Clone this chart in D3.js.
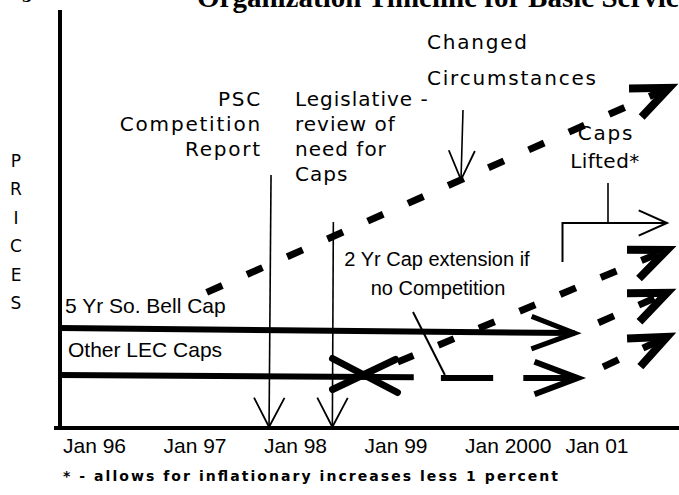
<!DOCTYPE html>
<html>
<head>
<meta charset="utf-8">
<script src="https://cdn.jsdelivr.net/npm/d3@7"></script>
<style>
  html, body { margin: 0; padding: 0; background: #fff; }
  svg { display: block; }
  .wide { font-family: "DejaVu Sans", sans-serif; font-size: 20px; letter-spacing: 1.8px; }
  .plain { font-family: "Liberation Sans", Arial, sans-serif; font-size: 21px; }
</style>
</head>
<body>
<svg id="containerSVG" width="679" height="495"></svg>
<script>

//DATA

var yearTicks = [1996, 1997, 1998, 1999, 2000, 2001];
var yearLabels = ["Jan 96", "Jan 97", "Jan 98", "Jan 99", "Jan 2000", "Jan 01"];

// caps: [year, price index]
var bellCap = [[1996, 23.8], [2001.12, 22.6]];
var lecCap = [[1996, 12.6], [1999.52, 12.1]];
var lecExtension = [[1999.79, 11.9], [2000.31, 11.9]];
var lecFinal = [[2000.61, 11.9], [2001.15, 11.9]];
var lecCapEnd = [1999.04, 12.5];

// prices after caps (dashed)
var priceUncapped = [[1997.46, 32.3], [2002.06, 81.0]];
var priceLecAfter = [[1999.36, 15.7], [2002.04, 42.4]];
var priceBellAfter = [[2001.12, 22.6], [2002.04, 32.2]];
var priceExtAfter = [[2001.17, 11.9], [2002.04, 21.7]];

// events
var eventNames = ["PSC Competition Report", "Legislative review", "Changed Circumstances", "Caps Lifted"];
var eventDates = [1998.08, 1998.71, 2000.0, 2001.0];

var pricesLetters = ["P", "R", "I", "C", "E", "S"];

//VARIABLES

var svg;
var x, y;
var line;

//FUNCTIONS

function init(){

    svg = d3.select("#containerSVG");

    x = d3.scaleLinear().domain([1996, 2001]).range([60, 562.5]);
    y = d3.scaleLinear().domain([0, 100]).range([428, 8]);

    line = d3.line()
        .x(d => x(d[0]))
        .y(d => y(d[1]));

    drawTitle();
    drawAxes();
    drawPricePaths();
    drawCaps();
    drawEvents();

}

function pt(d){
    return [x(d[0]), y(d[1])];
}

// open arrowhead at p1 coming from p0
function arrowHead(p0, p1, len, half, width){

    var a = Math.atan2(p1[1] - p0[1], p1[0] - p0[0]);
    var w1 = [p1[0] - len * Math.cos(a - half), p1[1] - len * Math.sin(a - half)];
    var w2 = [p1[0] - len * Math.cos(a + half), p1[1] - len * Math.sin(a + half)];

    svg.append("path")
        .attr("d", "M" + w1 + "L" + p1 + "L" + w2)
        .attr("fill", "none")
        .attr("stroke", "black")
        .attr("stroke-width", width)
        .attr("stroke-linejoin", "miter")
        .attr("stroke-miterlimit", 10);

}

function drawTitle(){

    // scanned page: only the bottom of the heading is left
    svg.append("text")
        .attr("x", 22)
        .attr("y", 2)
        .style("font-family", "'Liberation Serif', serif")
        .style("font-weight", "bold")
        .style("font-size", "20px")
        .text("3");

    svg.append("text")
        .attr("x", 197)
        .attr("y", 7)
        .style("font-family", "'Liberation Serif', serif")
        .style("font-weight", "bold")
        .style("font-size", "29px")
        .text("Organization Timeline for Basic Services");

}

function drawAxes(){

    // y axis
    svg.append("line")
        .attr("x1", x(1996)).attr("y1", 10)
        .attr("x2", x(1996)).attr("y2", y(0) + 2)
        .attr("stroke", "black")
        .attr("stroke-width", 4);

    // x axis
    svg.append("line")
        .attr("x1", 54).attr("y1", y(0))
        .attr("x2", 679).attr("y2", y(0))
        .attr("stroke", "black")
        .attr("stroke-width", 4);

    svg.selectAll(".tick")
        .data(yearTicks)
        .enter()
        .append("text")
        .attr("class", "plain tick")
        .attr("x", d => x(d) + 3)
        .attr("y", 453)
        .text((d, i) => yearLabels[i]);

    svg.selectAll(".prices")
        .data(pricesLetters)
        .enter()
        .append("text")
        .attr("class", "prices")
        .attr("x", 16)
        .attr("y", (d, i) => 167 + i * 28.4)
        .style("text-anchor", "middle")
        .style("font-family", "'DejaVu Sans', sans-serif")
        .style("font-size", "17px")
        .text(d => d);

    svg.append("text")
        .attr("x", 63)
        .attr("y", 481)
        .attr("textLength", 495)
        .attr("lengthAdjust", "spacing")
        .style("font-family", "'DejaVu Sans', sans-serif")
        .style("font-size", "14px")
        .style("font-weight", "bold")
        .text("* - allows for inflationary increases less 1 percent");

}

function drawCaps(){

    var caps = [bellCap, lecCap, lecExtension, lecFinal];

    svg.selectAll(".cap")
        .data(caps)
        .enter()
        .append("path")
        .attr("class", "cap")
        .attr("d", line)
        .attr("fill", "none")
        .attr("stroke", "black")
        .attr("stroke-width", 6);

    arrowHead(pt(bellCap[0]), pt(bellCap[1]), 46, 0.36, 5);
    arrowHead(pt(lecFinal[0]), pt(lecFinal[1]), 46, 0.36, 6);

    // cap ends: X mark
    var c = pt(lecCapEnd);
    svg.append("path")
        .attr("d", "M" + (c[0] - 33) + "," + (c[1] - 17) + "L" + (c[0] + 32) + "," + (c[1] + 17) +
                   "M" + (c[0] - 33) + "," + (c[1] + 14) + "L" + (c[0] + 30) + "," + (c[1] - 16))
        .attr("stroke", "black")
        .attr("stroke-width", 7)
        .attr("stroke-linecap", "round");

    svg.append("text")
        .attr("class", "plain")
        .attr("x", 65)
        .attr("y", 313)
        .text("5 Yr So. Bell Cap");

    svg.append("text")
        .attr("class", "plain")
        .attr("x", 68)
        .attr("y", 357)
        .text("Other LEC Caps");

    svg.append("text")
        .attr("class", "plain")
        .attr("x", 437)
        .attr("y", 266)
        .style("text-anchor", "middle")
        .style("font-size", "20px")
        .text("2 Yr Cap extension if");

    svg.append("text")
        .attr("class", "plain")
        .attr("x", 438)
        .attr("y", 295)
        .style("text-anchor", "middle")
        .style("font-size", "20px")
        .text("no Competition");

    svg.append("line")
        .attr("x1", 413).attr("y1", 312)
        .attr("x2", x(lecExtension[0][0]) + 4).attr("y2", y(lecExtension[0][1]) - 3)
        .attr("stroke", "black")
        .attr("stroke-width", 2);

}

function drawPricePaths(){

    var paths = [priceUncapped, priceLecAfter, priceBellAfter, priceExtAfter];
    var offsets = [0, 0, 18, 18];

    svg.selectAll(".price")
        .data(paths)
        .enter()
        .append("path")
        .attr("class", "price")
        .attr("d", line)
        .attr("fill", "none")
        .attr("stroke", "black")
        .attr("stroke-width", 7)
        .attr("stroke-dasharray", "17 27")
        .attr("stroke-dashoffset", (d, i) => offsets[i]);

    paths.forEach(p => {
        arrowHead(pt(p[0]), pt(p[1]), 40, 0.4, 8);
    });

}

function drawEvents(){

    // PSC Competition Report
    var xp = x(eventDates[0]);
    svg.append("line")
        .attr("x1", xp + 2).attr("y1", 175)
        .attr("x2", xp).attr("y2", y(0) - 1)
        .attr("stroke", "black").attr("stroke-width", 1.6);
    arrowHead([xp + 2, 175], [xp, y(0) - 1], 33, 0.48, 1.8);

    ["PSC", "Competition", "Report"].forEach((t, i) => {
        svg.append("text")
            .attr("class", "wide")
            .attr("x", 262)
            .attr("y", 106 + i * 25)
            .style("text-anchor", "end")
            .text(t);
    });

    // Legislative review
    var xl = x(eventDates[1]);
    svg.append("line")
        .attr("x1", xl + 1).attr("y1", 222)
        .attr("x2", xl).attr("y2", y(0) - 1)
        .attr("stroke", "black").attr("stroke-width", 1.6);
    arrowHead([xl + 1, 222], [xl, y(0) - 1], 33, 0.48, 1.8);

    ["Legislative -", "review of", "need for", "Caps"].forEach((t, i) => {
        svg.append("text")
            .attr("class", "wide")
            .attr("x", 295)
            .attr("y", 106 + i * 25)
            .style("letter-spacing", "1px")
            .text(t);
    });

    // Changed Circumstances
    var xc = x(eventDates[2]);
    var tipY = y(priceUncapped[0][1]) + (xc - 1 - x(priceUncapped[0][0])) *
        (y(priceUncapped[1][1]) - y(priceUncapped[0][1])) / (x(priceUncapped[1][0]) - x(priceUncapped[0][0]));
    svg.append("line")
        .attr("x1", xc + 1).attr("y1", 110)
        .attr("x2", xc - 1).attr("y2", tipY)
        .attr("stroke", "black").attr("stroke-width", 1.6);
    arrowHead([xc + 1, 110], [xc - 1, tipY], 32, 0.42, 1.8);

    svg.append("text").attr("class", "wide").attr("x", 427).attr("y", 49).text("Changed");
    svg.append("text").attr("class", "wide").attr("x", 427).attr("y", 85).text("Circumstances");

    // Caps Lifted
    var xf = x(eventDates[3]);
    svg.append("path")
        .attr("d", "M" + xf + ",262L" + xf + ",223L667,223")
        .attr("fill", "none")
        .attr("stroke", "black").attr("stroke-width", 2);
    arrowHead([xf, 223], [667, 223], 31, 0.42, 2);

    svg.append("line")
        .attr("x1", 608).attr("y1", 183)
        .attr("x2", 608).attr("y2", 223)
        .attr("stroke", "black").attr("stroke-width", 1.6);

    svg.append("text").attr("class", "wide").attr("x", 606).attr("y", 140)
        .style("text-anchor", "middle").text("Caps");
    svg.append("text").attr("class", "wide").attr("x", 605).attr("y", 168)
        .style("text-anchor", "middle").style("letter-spacing", "0.5px").text("Lifted*");

}

init();

</script>
</body>
</html>
